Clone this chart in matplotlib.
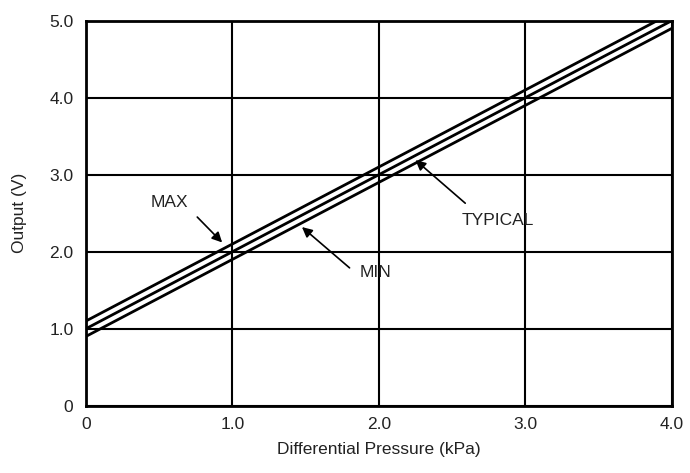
import matplotlib
matplotlib.use("Agg")
import matplotlib.pyplot as plt

plt.rcParams['font.family'] = ['Liberation Sans', 'DejaVu Sans']

pressure = [0.0, 4.0]
typical = [1.0, 5.0]
max_out = [1.1, 5.1]
min_out = [0.9, 4.9]

xticks = [0, 1, 2, 3, 4]
xtick_labels = ["0", "1.0", "2.0", "3.0", "4.0"]
yticks = [0, 1, 2, 3, 4, 5]
ytick_labels = ["0", "1.0", "2.0", "3.0", "4.0", "5.0"]

fig = plt.figure(figsize=(6.9, 4.73), dpi=100)
ax = fig.add_axes([0.1246, 0.1423, 0.8489, 0.8139])

for y in (max_out, typical, min_out):
    ax.plot(pressure, y, color='black', lw=2.0, solid_capstyle='butt', clip_on=True)

ax.set_xlim(0, 4)
ax.set_ylim(0, 5)
ax.set_xticks(xticks)
ax.set_xticklabels(xtick_labels)
ax.set_yticks(yticks)
ax.set_yticklabels(ytick_labels)
ax.tick_params(length=0, labelsize=12.5, colors='#222222')
ax.tick_params(axis='y', pad=9)
ax.tick_params(axis='x', pad=8)
ax.grid(True, color='black', lw=1.5)
for s in ax.spines.values():
    s.set_linewidth(2.0)
    s.set_color('black')

ax.set_xlabel("Differential Pressure (kPa)", fontsize=12.5, color='#222222')
ax.set_ylabel("Output (V)", fontsize=12.5, color='#222222')
ax.xaxis.set_label_coords(0.5, -0.094)
ax.yaxis.set_label_coords(-0.10, 0.5)

arrow = dict(arrowstyle='-|>', color='black', lw=1.2, mutation_scale=15, shrinkA=0, shrinkB=0)
ax.text(0.57, 2.64, "MAX", ha='center', va='center', fontsize=12.5, color='#222222')
ax.annotate("", xy=(0.93, 2.12), xytext=(0.76, 2.45), arrowprops=arrow)
ax.text(1.98, 1.73, "MIN", ha='center', va='center', fontsize=12.5, color='#222222')
ax.annotate("", xy=(1.475, 2.32), xytext=(1.80, 1.79), arrowprops=arrow)
ax.text(2.81, 2.41, "TYPICAL", ha='center', va='center', fontsize=12.5, color='#222222')
ax.annotate("", xy=(2.25, 3.19), xytext=(2.59, 2.63), arrowprops=arrow)

fig.savefig("out.png", dpi=100)
